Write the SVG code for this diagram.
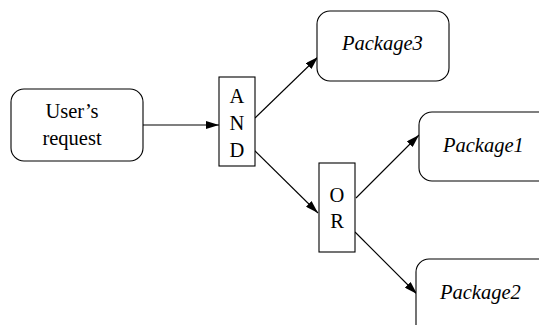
<svg xmlns="http://www.w3.org/2000/svg" width="539" height="325" viewBox="0 0 539 325">
<defs>
<marker id="ah" markerWidth="13" markerHeight="8" refX="13" refY="4" orient="auto" markerUnits="userSpaceOnUse">
<path d="M0,0 L13,4 L0,8 Z" fill="#000"/>
</marker>
<style>
.box{fill:#fff;stroke:#000;stroke-width:1.1}
text{font-family:'Liberation Serif','Times New Roman',Times,'DejaVu Serif',serif;font-size:20.5px;fill:#000}
.t{text-anchor:middle}
.i{font-style:italic;text-anchor:start}
.c{stroke:#000;stroke-width:1.1;fill:none;marker-end:url(#ah)}
</style>
</defs>
<rect width="539" height="325" fill="#fff"/>
<g id="connectors">
<line class="c" x1="143" y1="125" x2="219" y2="125"/>
<line class="c" x1="255" y1="118" x2="318" y2="57"/>
<line class="c" x1="254" y1="150" x2="318" y2="213"/>
<line class="c" x1="356" y1="198" x2="419" y2="135"/>
<line class="c" x1="355" y1="232" x2="417" y2="294"/>
</g>
<g id="users-request">
<rect class="box" x="11" y="89" width="132" height="72" rx="13"/>
<text class="t" x="72" y="118" font-family="Liberation Serif, serif">User’s</text>
<text class="t" x="72" y="145" font-family="Liberation Serif, serif">request</text>
</g>
<g id="and">
<rect class="box" x="219" y="77" width="36" height="89"/>
<text class="t" x="237" y="103">A</text>
<text class="t" x="237" y="130">N</text>
<text class="t" x="237" y="157">D</text>
</g>
<g id="or">
<rect class="box" x="319" y="163" width="36" height="89"/>
<text class="t" x="337" y="202">O</text>
<text class="t" x="337" y="228">R</text>
</g>
<g id="package3">
<rect class="box" x="317" y="11" width="132" height="70" rx="13"/>
<text class="t i" x="342" y="50">Package3</text>
</g>
<g id="package1">
<rect class="box" x="419" y="112" width="140" height="69" rx="13"/>
<text class="t i" x="443" y="152">Package1</text>
</g>
<g id="package2">
<rect class="box" x="416" y="259" width="140" height="90" rx="13"/>
<text class="t i" x="440" y="299">Package2</text>
</g>
</svg>
